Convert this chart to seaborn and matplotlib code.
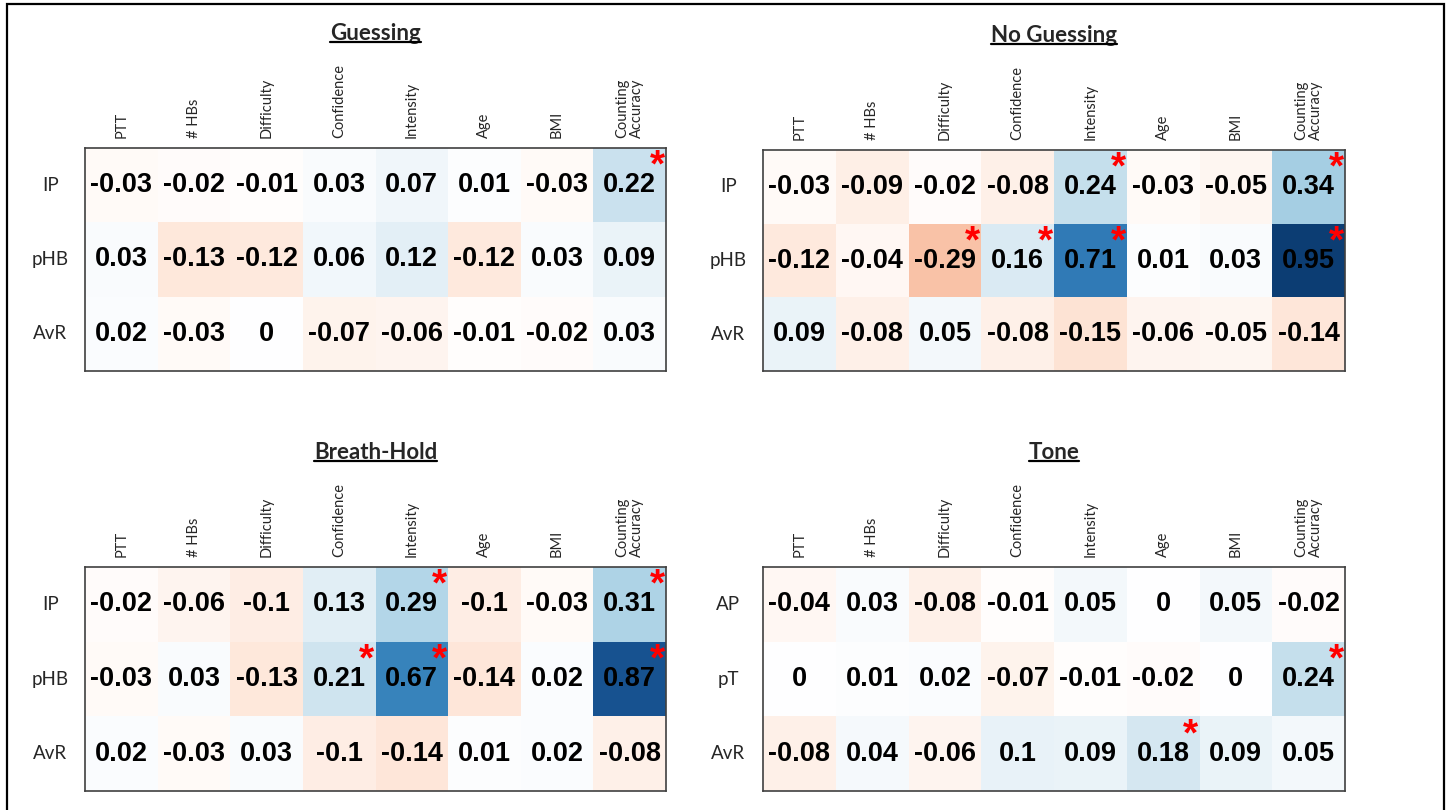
import numpy as np
import pandas as pd
import matplotlib.pyplot as plt
import seaborn as sns
from matplotlib.colors import LinearSegmentedColormap
from matplotlib.patches import Rectangle
from matplotlib.lines import Line2D

# column / row labels
cols = ['PTT', '# HBs', 'Difficulty', 'Confidence', 'Intensity', 'Age', 'BMI', 'Counting\nAccuracy']
rows_hb = ['IP', 'pHB', 'AvR']
rows_tone = ['AP', 'pT', 'AvR']

# correlation values
guessing = [[-0.03, -0.02, -0.01, 0.03, 0.07, 0.01, -0.03, 0.22],
            [0.03, -0.13, -0.12, 0.06, 0.12, -0.12, 0.03, 0.09],
            [0.02, -0.03, 0, -0.07, -0.06, -0.01, -0.02, 0.03]]
no_guessing = [[-0.03, -0.09, -0.02, -0.08, 0.24, -0.03, -0.05, 0.34],
               [-0.12, -0.04, -0.29, 0.16, 0.71, 0.01, 0.03, 0.95],
               [0.09, -0.08, 0.05, -0.08, -0.15, -0.06, -0.05, -0.14]]
breath_hold = [[-0.02, -0.06, -0.1, 0.13, 0.29, -0.1, -0.03, 0.31],
               [-0.03, 0.03, -0.13, 0.21, 0.67, -0.14, 0.02, 0.87],
               [0.02, -0.03, 0.03, -0.1, -0.14, 0.01, 0.02, -0.08]]
tone = [[-0.04, 0.03, -0.08, -0.01, 0.05, 0, 0.05, -0.02],
        [0, 0.01, 0.02, -0.07, -0.01, -0.02, 0, 0.24],
        [-0.08, 0.04, -0.06, 0.1, 0.09, 0.18, 0.09, 0.05]]

# significance (1 = asterisk)
guessing_sig = [[0, 0, 0, 0, 0, 0, 0, 1],
                [0, 0, 0, 0, 0, 0, 0, 0],
                [0, 0, 0, 0, 0, 0, 0, 0]]
no_guessing_sig = [[0, 0, 0, 0, 1, 0, 0, 1],
                   [0, 0, 1, 1, 1, 0, 0, 1],
                   [0, 0, 0, 0, 0, 0, 0, 0]]
breath_hold_sig = [[0, 0, 0, 0, 1, 0, 0, 1],
                   [0, 0, 0, 1, 1, 0, 0, 1],
                   [0, 0, 0, 0, 0, 0, 0, 0]]
tone_sig = [[0, 0, 0, 0, 0, 0, 0, 0],
            [0, 0, 0, 0, 0, 0, 0, 1],
            [0, 0, 0, 0, 0, 1, 0, 0]]

sns.set_theme(style='white')
plt.rcParams['font.family'] = ['Lato', 'DejaVu Sans']

# RdBu with a pure white centre
rdbu = ['#67001f', '#b2182b', '#d6604d', '#f4a582', '#fddbc7', '#ffffff',
        '#d1e5f0', '#92c5de', '#4393c3', '#2166ac', '#053061']
cmap = LinearSegmentedColormap.from_list('rdbu_w', rdbu)

W, H = 1449, 810
fig = plt.figure(figsize=(W / 100, H / 100), dpi=100)


def box(l, t, r, b):
    return [l / W, 1 - b / H, (r - l) / W, (b - t) / H]


panels = [
    ('Guessing', guessing, guessing_sig, rows_hb, box(85, 148, 666, 371)),
    ('No Guessing', no_guessing, no_guessing_sig, rows_hb, box(763, 150, 1345, 371)),
    ('Breath-Hold', breath_hold, breath_hold_sig, rows_hb, box(85, 567, 666, 791)),
    ('Tone', tone, tone_sig, rows_tone, box(763, 567, 1345, 791)),
]

value_font = ['Liberation Sans', 'DejaVu Sans']
titles = []
for name, vals, sig, rows, rect in panels:
    ax = fig.add_axes(rect)
    df = pd.DataFrame(vals, index=rows, columns=cols)
    annot = np.array([[f'{v:g}' for v in r] for r in vals])
    sns.heatmap(df, ax=ax, cmap=cmap, vmin=-1, vmax=1, cbar=False,
                annot=annot, fmt='',
                annot_kws=dict(fontsize=19.5, weight='bold', color='black',
                               family=value_font))
    ax.xaxis.tick_top()
    ax.set_xticklabels(cols, rotation=90, fontsize=10.5, ha='center', va='bottom',
                       linespacing=1.0)
    ax.set_yticklabels(rows, rotation=0, fontsize=13.5)
    for lbl in ax.get_yticklabels():
        lbl.set_ha('center')
    ax.tick_params(axis='x', length=0, pad=7)
    ax.tick_params(axis='y', length=0, pad=25)
    for s in ax.spines.values():
        s.set_visible(True)
        s.set_color('#404040')
        s.set_linewidth(1.2)
    sig_arr = np.array(sig)
    for i, j in zip(*np.nonzero(sig_arr)):
        ax.text(j + 0.88, i + 0.25, '*', color='red', fontsize=28, weight='bold',
                ha='center', va='center', family=value_font)
    t = ax.text(0.5, 1 + 114 / (rect[3] * H), name, transform=ax.transAxes,
                ha='center', va='center', fontsize=16, weight='bold')
    titles.append(t)

# underline the titles
fig.canvas.draw()
renderer = fig.canvas.get_renderer()
for t in titles:
    bb = t.get_window_extent(renderer)
    y = (bb.y0 + 0.14 * bb.height) / H
    fig.add_artist(Line2D([bb.x0 / W, bb.x1 / W], [y, y], transform=fig.transFigure,
                          color='black', linewidth=1.6))

# outer frame
fig.add_artist(Rectangle((7 / W, -0.02), (1444 - 7) / W, 1.02 - 4 / H,
                         transform=fig.transFigure, fill=False,
                         edgecolor='black', linewidth=1.6))

fig.savefig('out.png', dpi=100)
